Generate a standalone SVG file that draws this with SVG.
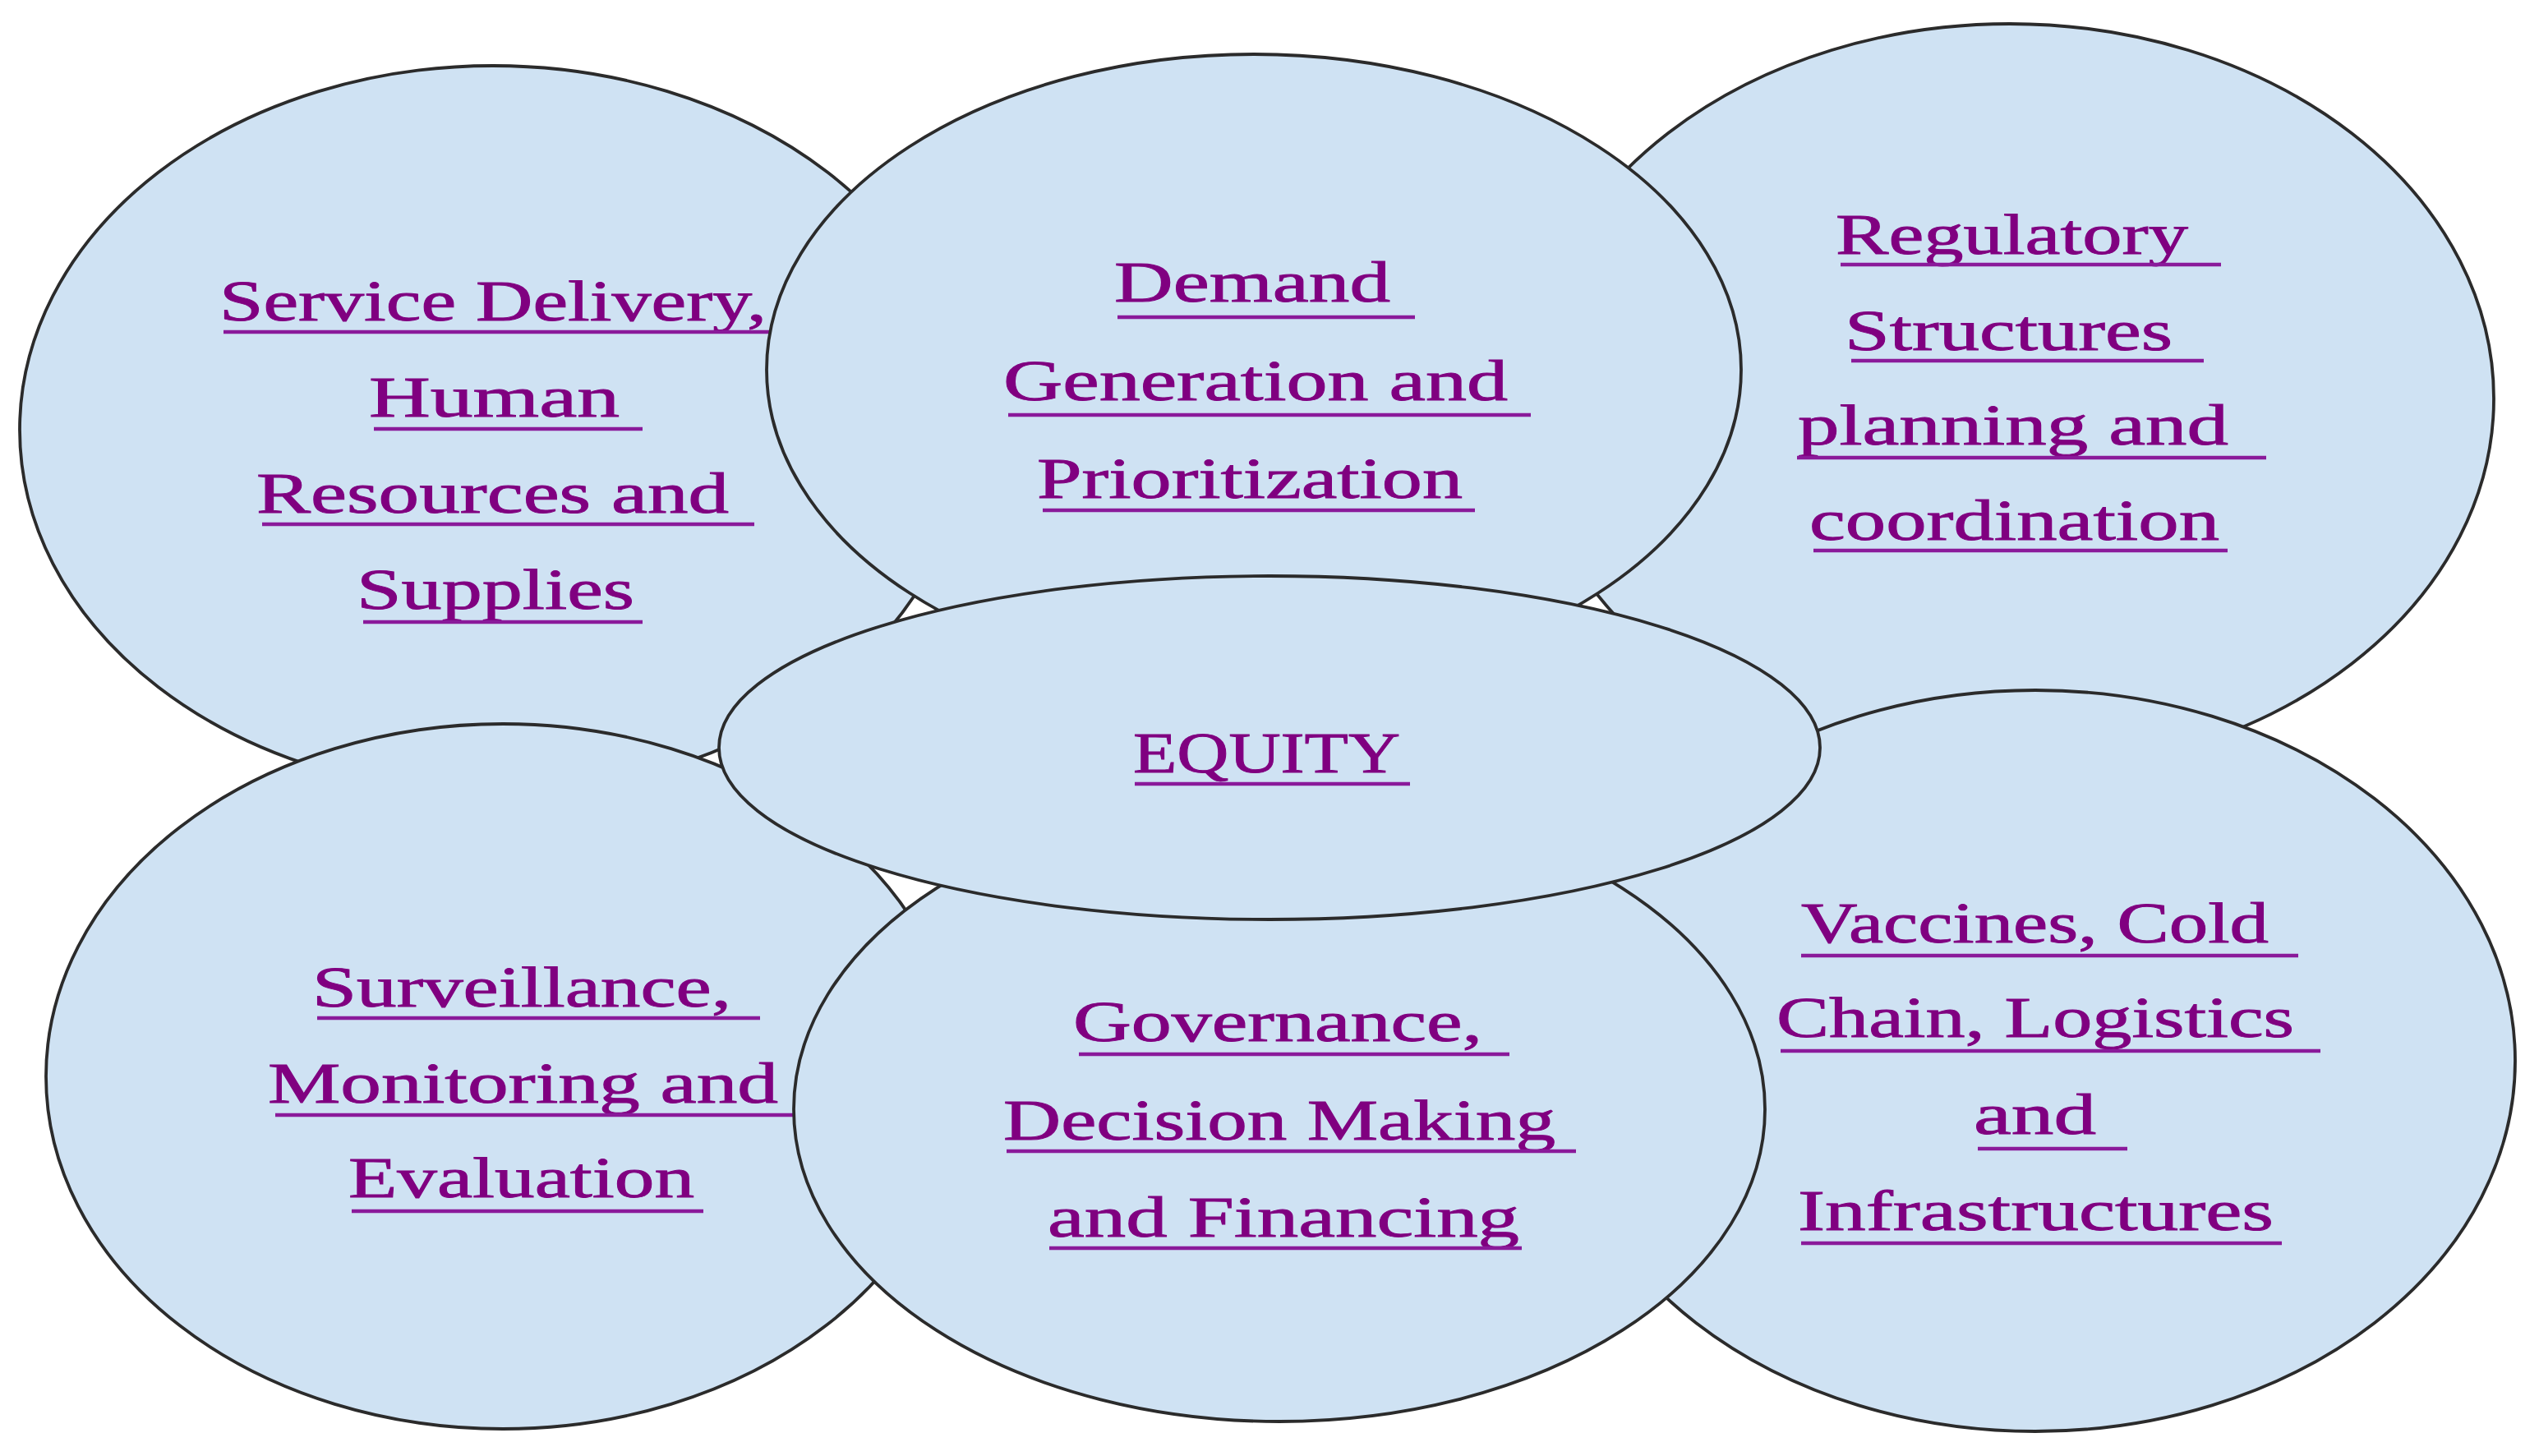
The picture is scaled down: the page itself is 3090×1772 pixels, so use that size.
<svg xmlns="http://www.w3.org/2000/svg" width="3090" height="1772" viewBox="0 0 3090 1772">
<style>
.node{fill:#cfe2f3;stroke:#2b2b2b;stroke-width:3.8}
.lbl{font-family:"Liberation Serif","Times New Roman",serif;font-size:70px;fill:#800080;stroke:#800080;stroke-width:0.9}
.ul{stroke:#8a1a9a;stroke-width:4.5}
</style>
<rect width="3090" height="1772" fill="#ffffff"/>
<g id="connectors"></g>
<g id="node-service">
<ellipse class="node" cx="600" cy="523" rx="576" ry="443"/>
<text class="lbl" x="267" y="390" textLength="666" lengthAdjust="spacingAndGlyphs">Service Delivery,</text>
<text class="lbl" x="449" y="507" textLength="305" lengthAdjust="spacingAndGlyphs">Human</text>
<text class="lbl" x="312" y="624" textLength="575" lengthAdjust="spacingAndGlyphs">Resources and</text>
<text class="lbl" x="434" y="741" textLength="338" lengthAdjust="spacingAndGlyphs">Supplies</text>
<line class="ul" x1="272" y1="404" x2="936" y2="404"/>
<line class="ul" x1="455" y1="522" x2="782" y2="522"/>
<line class="ul" x1="319" y1="638" x2="918" y2="638"/>
<line class="ul" x1="442" y1="757" x2="782" y2="757"/>
</g>
<g id="node-regulatory">
<ellipse class="node" cx="2446" cy="485" rx="589" ry="456"/>
<text class="lbl" x="2234" y="309" textLength="429" lengthAdjust="spacingAndGlyphs">Regulatory</text>
<text class="lbl" x="2245" y="426" textLength="399" lengthAdjust="spacingAndGlyphs">Structures</text>
<text class="lbl" x="2188" y="541" textLength="524" lengthAdjust="spacingAndGlyphs">planning and</text>
<text class="lbl" x="2202" y="657" textLength="499" lengthAdjust="spacingAndGlyphs">coordination</text>
<line class="ul" x1="2240" y1="322" x2="2703" y2="322"/>
<line class="ul" x1="2253" y1="439" x2="2682" y2="439"/>
<line class="ul" x1="2187" y1="557" x2="2758" y2="557"/>
<line class="ul" x1="2207" y1="670" x2="2711" y2="670"/>
</g>
<g id="node-surveillance">
<ellipse class="node" cx="612" cy="1310" rx="556" ry="429"/>
<text class="lbl" x="380" y="1225" textLength="510" lengthAdjust="spacingAndGlyphs">Surveillance,</text>
<text class="lbl" x="326" y="1342" textLength="621" lengthAdjust="spacingAndGlyphs">Monitoring and</text>
<text class="lbl" x="424" y="1457" textLength="421" lengthAdjust="spacingAndGlyphs">Evaluation</text>
<line class="ul" x1="386" y1="1239" x2="925" y2="1239"/>
<line class="ul" x1="335" y1="1357" x2="975" y2="1357"/>
<line class="ul" x1="428" y1="1474" x2="856" y2="1474"/>
</g>
<g id="node-vaccines">
<ellipse class="node" cx="2477" cy="1291" rx="584" ry="451"/>
<text class="lbl" x="2192" y="1147" textLength="569" lengthAdjust="spacingAndGlyphs">Vaccines, Cold</text>
<text class="lbl" x="2162" y="1262" textLength="630" lengthAdjust="spacingAndGlyphs">Chain, Logistics</text>
<text class="lbl" x="2402" y="1380" textLength="149" lengthAdjust="spacingAndGlyphs">and</text>
<text class="lbl" x="2188" y="1497" textLength="579" lengthAdjust="spacingAndGlyphs">Infrastructures</text>
<line class="ul" x1="2192" y1="1163" x2="2797" y2="1163"/>
<line class="ul" x1="2167" y1="1279" x2="2824" y2="1279"/>
<line class="ul" x1="2407" y1="1398" x2="2589" y2="1398"/>
<line class="ul" x1="2192" y1="1513" x2="2777" y2="1513"/>
</g>
<g id="node-demand">
<ellipse class="node" cx="1526" cy="450" rx="593" ry="384"/>
<text class="lbl" x="1356" y="367" textLength="336" lengthAdjust="spacingAndGlyphs">Demand</text>
<text class="lbl" x="1221" y="487" textLength="614" lengthAdjust="spacingAndGlyphs">Generation and</text>
<text class="lbl" x="1262" y="606" textLength="518" lengthAdjust="spacingAndGlyphs">Prioritization</text>
<line class="ul" x1="1360" y1="386" x2="1722" y2="386"/>
<line class="ul" x1="1227" y1="505" x2="1863" y2="505"/>
<line class="ul" x1="1269" y1="621" x2="1795" y2="621"/>
</g>
<g id="node-governance">
<ellipse class="node" cx="1557" cy="1350" rx="591" ry="380"/>
<text class="lbl" x="1306" y="1267" textLength="498" lengthAdjust="spacingAndGlyphs">Governance,</text>
<text class="lbl" x="1221" y="1387" textLength="672" lengthAdjust="spacingAndGlyphs">Decision Making</text>
<text class="lbl" x="1275" y="1505" textLength="574" lengthAdjust="spacingAndGlyphs">and Financing</text>
<line class="ul" x1="1313" y1="1283" x2="1837" y2="1283"/>
<line class="ul" x1="1225" y1="1401" x2="1918" y2="1401"/>
<line class="ul" x1="1277" y1="1519" x2="1852" y2="1519"/>
</g>
<g id="node-equity">
<ellipse class="node" cx="1545" cy="910" rx="670" ry="209"/>
<text class="lbl" x="1379" y="940" textLength="325" lengthAdjust="spacingAndGlyphs">EQUITY</text>
<line class="ul" x1="1381" y1="954" x2="1716" y2="954"/>
</g>
</svg>
